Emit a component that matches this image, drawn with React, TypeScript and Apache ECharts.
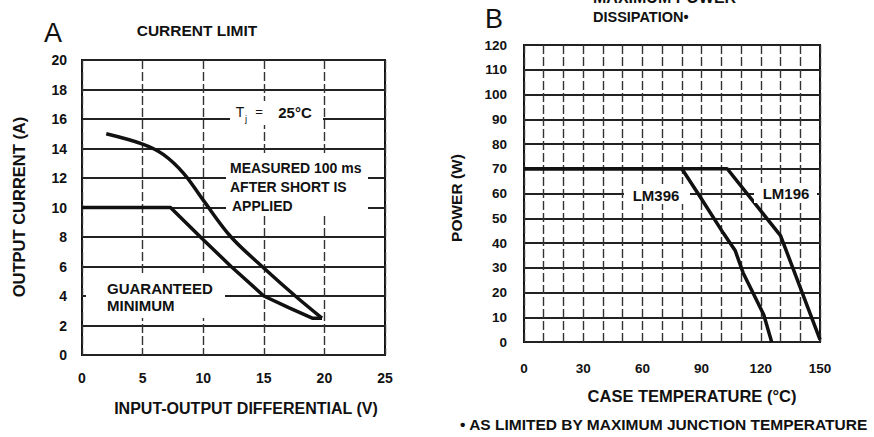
import React, { useEffect, useRef } from "react";
import * as echarts from "echarts";

// Panel A: current limit
const aXTicks = [0, 5, 10, 15, 20, 25];
const aYTicks = [0, 2, 4, 6, 8, 10, 12, 14, 16, 18, 20];
const measuredX = [2, 5, 6.7, 8.4, 10, 12.3, 15, 17.6, 19.8];
const measuredY = [15, 14.3, 13.6, 12.3, 10.5, 8, 5.9, 4.0, 2.5];
const guaranteedX = [0, 7.3, 9.9, 12.3, 15, 17.1, 19, 19.8];
const guaranteedY = [10, 10, 7.9, 6, 4, 3.2, 2.5, 2.5];

// Panel B: maximum power dissipation
const bXLabels = [0, 30, 60, 90, 120, 150];
const bYTicks = [0, 10, 20, 30, 40, 50, 60, 70, 80, 90, 100, 110, 120];
const lm396X = [0, 80, 89, 101, 107, 111, 121.5, 125.5];
const lm396Y = [70, 70, 59, 44, 37, 28, 11, 0];
const lm196X = [0, 103, 130, 150];
const lm196Y = [70, 70, 43, 1];

const FONT = '"Liberation Sans", Arial, Helvetica, sans-serif';
const INK = "#111";

const zip = (xs: number[], ys: number[]) => xs.map((x, i) => [x, ys[i]]);

function txt(
  text: string,
  x: number,
  y: number,
  size: number,
  opts: { weight?: string; align?: string; rot?: number; z?: number } = {}
) {
  const align = opts.align || "center";
  return {
    type: "text",
    x,
    y,
    rotation: opts.rot || 0,
    z: opts.z || 11,
    style: {
      text,
      fill: INK,
      font: `${opts.weight || "bold"} ${size}px ${FONT}`,
      textAlign: align,
      textVerticalAlign: "middle",
      align,
      verticalAlign: "middle",
    },
  };
}

function whiteRect(x: number, y: number, w: number, h: number) {
  return {
    type: "rect",
    z: 10,
    shape: { x, y, width: w, height: h },
    style: { fill: "#fff" },
  };
}

export default function App() {
  const ref = useRef<HTMLDivElement>(null);

  useEffect(() => {
    if (!ref.current) return;
    const chart = echarts.init(ref.current, undefined, { renderer: "svg" });

    const labelStyle = {
      color: INK,
      fontFamily: FONT,
      fontWeight: "bold" as const,
      fontSize: 14,
    };
    const hSplit = { show: true, lineStyle: { color: "#222", width: 1.8 } };
    const vSplit = {
      show: true,
      lineStyle: { color: "#333", width: 1.4, type: [9, 3] as any },
    };

    const option: any = {
      animation: false,
      backgroundColor: "#fff",
      grid: [
        {
          left: 82,
          top: 60,
          width: 303,
          height: 295,
          show: true,
          borderColor: "#111",
          borderWidth: 2,
          backgroundColor: "transparent",
        },
        {
          left: 524,
          top: 45,
          width: 296,
          height: 297,
          show: true,
          borderColor: "#111",
          borderWidth: 2,
          backgroundColor: "transparent",
        },
      ],
      xAxis: [
        {
          type: "value",
          gridIndex: 0,
          min: aXTicks[0],
          max: aXTicks[aXTicks.length - 1],
          interval: 5,
          axisLine: { show: false },
          axisTick: { show: false },
          axisLabel: { ...labelStyle, margin: 16 },
          splitLine: vSplit,
        },
        {
          type: "value",
          gridIndex: 1,
          min: 0,
          max: 150,
          interval: 10,
          axisLine: { show: false },
          axisTick: { show: false },
          axisLabel: {
            ...labelStyle,
            fontSize: 13.5,
            margin: 19,
            formatter: (v: number) => (bXLabels.includes(v) ? String(v) : ""),
          },
          splitLine: vSplit,
        },
      ],
      yAxis: [
        {
          type: "value",
          gridIndex: 0,
          min: aYTicks[0],
          max: aYTicks[aYTicks.length - 1],
          interval: 2,
          axisLine: { show: false },
          axisTick: { show: false },
          axisLabel: { ...labelStyle, margin: 15 },
          splitLine: hSplit,
        },
        {
          type: "value",
          gridIndex: 1,
          min: bYTicks[0],
          max: bYTicks[bYTicks.length - 1],
          interval: 10,
          axisLine: { show: false },
          axisTick: { show: false },
          axisLabel: { ...labelStyle, fontSize: 13.5, margin: 17 },
          splitLine: hSplit,
        },
      ],
      series: [
        {
          name: "Measured 100 ms after short is applied",
          type: "line",
          xAxisIndex: 0,
          yAxisIndex: 0,
          data: zip(measuredX, measuredY),
          smooth: 0.35,
          showSymbol: false,
          lineStyle: { color: INK, width: 3.5 },
        },
        {
          name: "Guaranteed minimum",
          type: "line",
          xAxisIndex: 0,
          yAxisIndex: 0,
          data: zip(guaranteedX, guaranteedY),
          showSymbol: false,
          lineStyle: { color: INK, width: 3.5 },
        },
        {
          name: "LM396",
          type: "line",
          xAxisIndex: 1,
          yAxisIndex: 1,
          data: zip(lm396X, lm396Y),
          showSymbol: false,
          lineStyle: { color: INK, width: 3.5 },
        },
        {
          name: "LM196",
          type: "line",
          xAxisIndex: 1,
          yAxisIndex: 1,
          data: zip(lm196X, lm196Y),
          showSymbol: false,
          lineStyle: { color: INK, width: 3.5 },
        },
      ],
      graphic: [
        // Panel A titles
        txt("A", 53, 33, 27, { weight: "normal" }),
        txt("CURRENT LIMIT", 197, 30, 15.5),
        // Panel A annotations
        whiteRect(230, 101, 93, 24),
        txt("T", 240, 112, 14, { weight: "normal" }),
        txt("j", 246, 118, 9.5, { weight: "normal" }),
        txt("=", 259, 111, 13, { weight: "normal" }),
        txt("25°C", 295, 112, 15),
        whiteRect(226, 156, 142, 60),
        txt("MEASURED 100 ms", 230, 168, 14, { align: "left" }),
        txt("AFTER SHORT IS", 230, 187, 14, { align: "left" }),
        txt("APPLIED", 232, 206, 14, { align: "left" }),
        whiteRect(86, 274, 139, 44),
        txt("GUARANTEED", 107, 288, 15, { align: "left" }),
        txt("MINIMUM", 107, 305, 15, { align: "left" }),
        // Panel A axis names
        txt("OUTPUT CURRENT (A)", 19, 207, 16.5, { rot: Math.PI / 2 }),
        txt("INPUT-OUTPUT DIFFERENTIAL (V)", 246, 408, 16),
        // Panel B titles
        txt("B", 494, 19, 27, { weight: "normal" }),
        txt("MAXIMUM POWER", 593, -3, 16, { align: "left" }),
        txt("DISSIPATION•", 593, 17, 14.5, { align: "left" }),
        // Panel B annotations
        whiteRect(624, 184, 66, 20),
        txt("LM396", 656, 195, 15),
        whiteRect(754, 183, 63, 20),
        txt("LM196", 786, 193, 15),
        // Panel B axis names
        txt("POWER (W)", 456, 198, 15.5, { rot: Math.PI / 2 }),
        txt("CASE TEMPERATURE (°C)", 692, 396, 16.5),
        txt("• AS LIMITED BY MAXIMUM JUNCTION TEMPERATURE", 460, 424, 15.5, {
          align: "left",
        }),
      ],
    };

    chart.setOption(option);
    return () => chart.dispose();
  }, []);

  return (
    <div
      ref={ref}
      style={{
        position: "fixed",
        left: 0,
        top: 0,
        width: 874,
        height: 437,
        background: "#fff",
      }}
    />
  );
}
